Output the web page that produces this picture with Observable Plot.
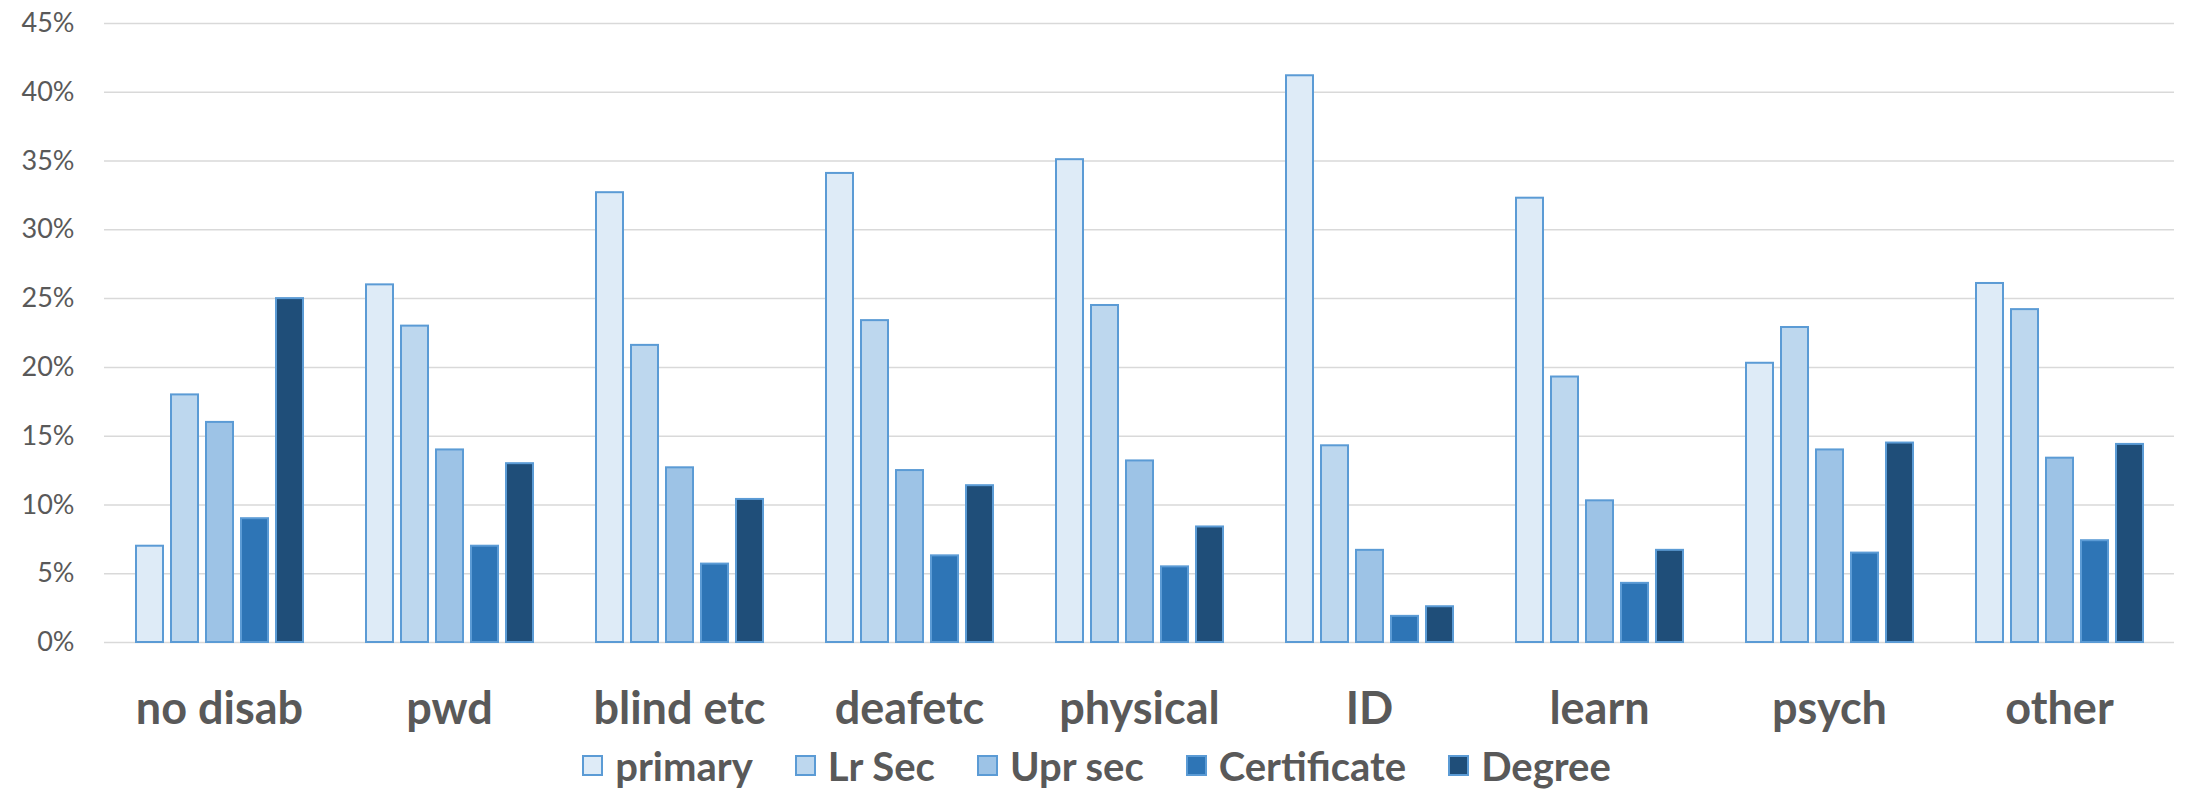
<!DOCTYPE html>
<html>
<head>
<meta charset="utf-8">
<script src="https://cdn.jsdelivr.net/npm/d3@7"></script>
<script src="https://cdn.jsdelivr.net/npm/@observablehq/plot@0.6"></script>
<style>
  html, body { margin: 0; padding: 0; background: #ffffff; }
  #chart svg { display: block; }
  .legend {
    display: flex; justify-content: center; align-items: center;
    height: 47px; font-family: Lato, "Liberation Sans", sans-serif;
    font-weight: bold; font-size: 40px; color: #595959;
  }
  .legend .item { display: flex; align-items: center; margin: 0 21px; }
  .legend .sw { width: 17px; height: 17px; border: 2px solid #5B9BD5; margin-right: 12px; }
</style>
</head>
<body>
<div id="chart"></div>
<div class="legend" id="legend"></div>
<script>
// Disability groups along the horizontal axis
const categories = ["no disab", "pwd", "blind etc", "deafetc", "physical", "ID", "learn", "psych", "other"];

// Highest level of education, share of each group (%)
const series = ["primary", "Lr Sec", "Upr sec", "Certificate", "Degree"];
const primary     = [7, 26, 32.7, 34.1, 35.1, 41.2, 32.3, 20.3, 26.1];
const lrSec       = [18, 23, 21.6, 23.4, 24.5, 14.3, 19.3, 22.9, 24.2];
const uprSec      = [16, 14, 12.7, 12.5, 13.2, 6.7, 10.3, 14.0, 13.4];
const certificate = [9, 7, 5.7, 6.3, 5.5, 1.9, 4.3, 6.5, 7.4];
const degree      = [25, 13, 10.4, 11.4, 8.4, 2.6, 6.7, 14.5, 14.4];

const colors = ["#DEEBF7", "#BDD7EE", "#9DC3E6", "#2E75B6", "#1F4E79"];
const yTicks = [0, 5, 10, 15, 20, 25, 30, 35, 40, 45];

const valuesBySeries = [primary, lrSec, uprSec, certificate, degree];
const rows = [];
categories.forEach((cat, i) => {
  series.forEach((s, j) => rows.push({cat, series: s, value: valuesBySeries[j][i]}));
});

const font = 'Lato, "Liberation Sans", sans-serif';

const chart = Plot.plot({
  width: 2193,
  height: 742,
  marginTop: 23,
  marginBottom: 100,
  marginLeft: 100,
  marginRight: 16,
  style: {fontFamily: font, color: "#595959", background: "#ffffff"},
  fx: {domain: categories, padding: 0},
  x: {domain: series, axis: null, paddingInner: 0.235, paddingOuter: 0.887},
  y: {domain: [0, 45]},
  color: {domain: series, range: colors},
  marks: [
    Plot.gridY(yTicks, {stroke: "#d9d9d9", strokeOpacity: 1, strokeWidth: 1.5}),
    Plot.axisY(yTicks, {
      tickSize: 0, tickPadding: 30, label: null,
      tickFormat: d => d + "%", fontSize: 27, fill: "#595959"
    }),
    Plot.axisFx({
      anchor: "bottom", tickSize: 0, tickPadding: 50, label: null,
      fontSize: 45, fontWeight: "bold", fill: "#595959"
    }),
    Plot.barY(rows, {
      fx: "cat", x: "series", y: "value", fill: "series",
      stroke: "#5B9BD5", strokeWidth: 2
    })
  ]
});
document.getElementById("chart").appendChild(chart);

// Legend built from the same series and colours
const legend = document.getElementById("legend");
series.forEach((s, j) => {
  const item = document.createElement("div");
  item.className = "item";
  const sw = document.createElement("span");
  sw.className = "sw";
  sw.style.background = colors[j];
  const label = document.createElement("span");
  label.textContent = s;
  item.appendChild(sw);
  item.appendChild(label);
  legend.appendChild(item);
});
</script>
</body>
</html>
